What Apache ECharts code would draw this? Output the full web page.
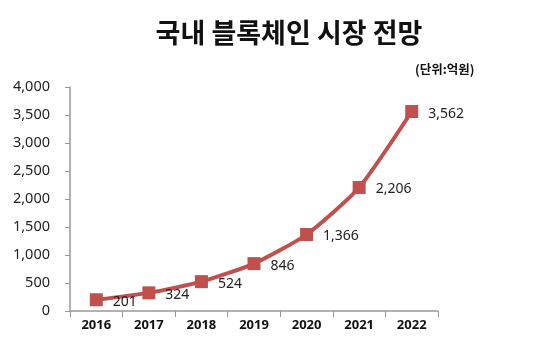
<!DOCTYPE html>
<html><head><meta charset="utf-8">
<script src="https://cdn.jsdelivr.net/npm/echarts@6/dist/echarts.min.js"></script>
<style>html,body{margin:0;padding:0;background:#fff}#c{width:535px;height:357px}</style>
</head><body><div id="c"></div>
<script>
const categories = ['2016','2017','2018','2019','2020','2021','2022'];
const values = [201, 324, 524, 846, 1366, 2206, 3562];
const titleText = '국내 블록체인 시장 전망';
const unitText = '(단위:억원)';
const chart = echarts.init(document.getElementById('c'));
chart.setOption({
  backgroundColor: '#fff',
  animation: false,
  title: [
    {text: titleText, left: 284, top: 14, textAlign: 'center',
     textStyle: {fontFamily: 'Noto Sans CJK KR', fontSize: 27, fontWeight: 'bold', color: '#111'}},
    {text: unitText, left: 410, top: 58,
     textStyle: {fontFamily: 'Noto Sans CJK KR', fontSize: 12.5, fontWeight: 'bold', color: '#111'}}
  ],
  grid: {left: 70, right: 97, top: 87, bottom: 46},
  xAxis: {
    type: 'category', data: categories, boundaryGap: true,
    axisLine: {lineStyle: {color: '#999', width: 1.5}},
    axisTick: {show: true, length: 6, inside: false, lineStyle: {color: '#999'}},
    axisLabel: {fontFamily: 'Noto Sans', fontWeight: 'bold', fontSize: 13, color: '#111', margin: 8}
  },
  yAxis: {
    type: 'value', min: 0, max: 4000, interval: 500,
    axisLine: {show: true, lineStyle: {color: '#999', width: 1.5}},
    axisTick: {show: true, length: 5, lineStyle: {color: '#999'}},
    splitLine: {show: false},
    axisLabel: {fontFamily: 'Noto Sans', fontSize: 14.5, color: '#222', margin: 20,
      formatter: v => v.toLocaleString('en-US')}
  },
  series: [{
    type: 'line', data: values, smooth: 0.2,
    symbol: 'rect', symbolSize: 13,
    lineStyle: {color: '#C0504D', width: 4},
    itemStyle: {color: '#C0504D'},
    label: {show: true, position: 'right', distance: 10, fontFamily: 'Noto Sans', fontSize: 14, color: '#222',
      offset: [0, 2],
      formatter: p => p.value.toLocaleString('en-US')}
  }]
});
</script></body></html>
